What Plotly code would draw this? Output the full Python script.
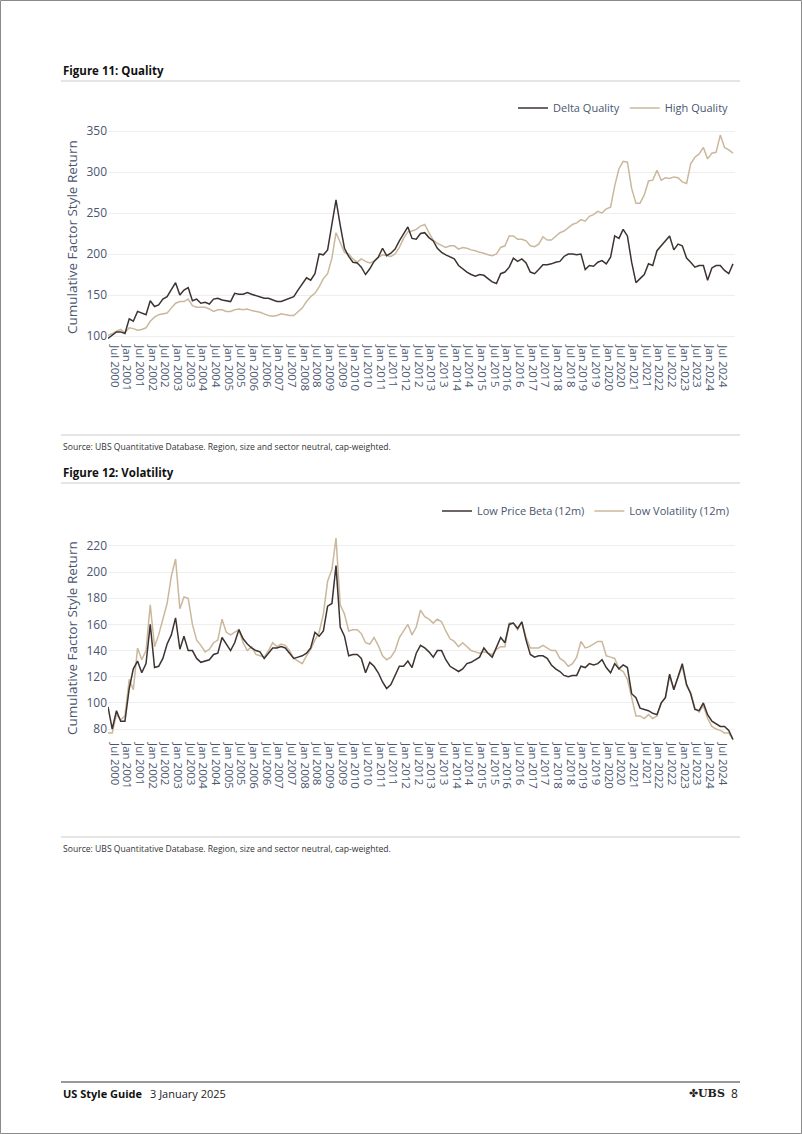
import pandas as pd
import plotly.graph_objects as go

W, H = 802, 1134

# bimonthly observations, Apr 2000 .. Dec 2024
dates = pd.date_range("2000-04-01", periods=149, freq="2MS")

delta_quality = [
    97, 101, 105, 105, 103, 121, 118, 130, 128, 126, 143, 136, 138, 145, 148, 156, 165, 150, 156, 159, 143, 145, 140, 141, 139,
    145, 146, 144, 143, 142, 152, 151, 151, 153, 151, 149, 148, 146, 146, 144, 142, 142, 144, 146, 148, 156, 163, 171, 168, 176,
    200, 199, 205, 237, 266, 235, 207, 197, 190, 189, 184, 175, 182, 191, 196, 207, 198, 201, 206, 216, 225, 233, 219, 218, 225,
    226, 220, 216, 207, 202, 199, 196, 194, 186, 182, 178, 175, 173, 175, 174, 170, 166, 164, 176, 178, 184, 195, 191, 194, 189,
    178, 176, 181, 187, 187, 188, 190, 191, 197, 200, 200, 199, 200, 181, 186, 185, 190, 192, 188, 196, 222, 219, 230, 222, 190,
    165, 170, 175, 188, 186, 204, 210, 217, 222, 205, 212, 210, 195, 190, 184, 186, 186, 168, 183, 186, 186, 180, 176, 188,
]
high_quality = [
    101, 103, 106, 108, 104, 110, 109, 107, 108, 110, 118, 123, 126, 127, 128, 134, 140, 142, 142, 145, 137, 135, 135, 135, 133,
    130, 132, 132, 130, 130, 132, 133, 132, 133, 131, 130, 129, 127, 125, 124, 125, 127, 126, 125, 125, 129, 134, 142, 148, 152,
    160, 170, 176, 195, 226, 214, 202, 200, 194, 190, 194, 191, 189, 191, 196, 199, 198, 197, 200, 208, 219, 227, 228, 230, 234,
    236, 226, 217, 213, 210, 208, 210, 210, 206, 208, 207, 205, 204, 202, 201, 199, 198, 200, 208, 210, 222, 222, 218, 218, 216,
    210, 209, 212, 221, 217, 217, 221, 226, 228, 232, 236, 238, 242, 240, 246, 248, 252, 250, 255, 257, 283, 304, 313, 312, 280,
    262, 262, 272, 289, 290, 302, 290, 293, 292, 294, 293, 288, 286, 310, 318, 322, 330, 316, 323, 324, 345, 330, 327, 323,
]
low_price_beta = [
    97, 80, 94, 86, 86, 111, 126, 132, 123, 130, 160, 127, 128, 134, 145, 152, 165, 141, 151, 140, 140, 134, 131, 132, 133,
    137, 138, 150, 145, 140, 146, 156, 149, 145, 142, 140, 139, 134, 138, 142, 142, 143, 142, 138, 134, 135, 136, 138, 142, 154,
    151, 155, 174, 176, 205, 158, 151, 136, 137, 137, 134, 123, 131, 128, 123, 116, 111, 114, 121, 128, 128, 132, 127, 138, 144,
    142, 139, 135, 140, 140, 133, 128, 126, 124, 126, 130, 131, 133, 135, 142, 138, 135, 143, 150, 146, 160, 161, 157, 162, 148,
    137, 135, 136, 136, 134, 129, 126, 124, 121, 120, 121, 121, 128, 127, 130, 129, 130, 133, 127, 123, 130, 126, 129, 127, 107,
    104, 96, 95, 94, 92, 91, 100, 104, 122, 110, 120, 130, 114, 107, 95, 94, 100, 91, 86, 84, 82, 82, 79, 72,
]
low_volatility = [
    77, 77, 91, 87, 90, 118, 110, 142, 133, 140, 175, 143, 152, 164, 176, 197, 210, 172, 181, 180, 160, 148, 144, 139, 141,
    146, 148, 164, 154, 152, 154, 156, 146, 140, 143, 137, 136, 135, 140, 146, 143, 145, 144, 140, 134, 132, 130, 136, 141, 148,
    154, 168, 193, 202, 226, 175, 168, 155, 156, 156, 153, 146, 145, 150, 144, 136, 133, 135, 140, 150, 155, 160, 152, 158, 171,
    166, 164, 161, 164, 162, 155, 149, 147, 143, 146, 143, 140, 139, 138, 139, 138, 137, 141, 143, 143, 161, 161, 156, 162, 150,
    142, 142, 142, 144, 142, 140, 140, 134, 132, 128, 130, 135, 147, 142, 143, 145, 147, 147, 136, 135, 134, 126, 124, 118, 105,
    90, 90, 88, 91, 88, 90, 100, 104, 120, 111, 120, 128, 113, 108, 96, 93, 98, 88, 82, 80, 79, 77, 77, 72,
]

quality_ticks = [100, 150, 200, 250, 300, 350]
volatility_ticks = [80, 100, 120, 140, 160, 180, 200, 220]

DARK = "#3d3330"
TAN = "#cbb89c"
AXIS = "#4a5670"
GRID = "#eeeeee"
FONT = "Open Sans"


def px(x):
    return x / W


def py(y):
    return 1 - y / H


fig = go.Figure()

# chart 1
fig.add_trace(go.Scatter(x=dates, y=high_quality, name="High Quality", mode="lines",
                         line=dict(color=TAN, width=1.5), xaxis="x", yaxis="y",
                         legend="legend", legendrank=2))
fig.add_trace(go.Scatter(x=dates, y=delta_quality, name="Delta Quality", mode="lines",
                         line=dict(color=DARK, width=1.5), xaxis="x", yaxis="y",
                         legend="legend", legendrank=1))
# chart 2
fig.add_trace(go.Scatter(x=dates, y=low_volatility, name="Low Volatility (12m)", mode="lines",
                         line=dict(color=TAN, width=1.5), xaxis="x2", yaxis="y2",
                         legend="legend2", legendrank=2))
fig.add_trace(go.Scatter(x=dates, y=low_price_beta, name="Low Price Beta (12m)", mode="lines",
                         line=dict(color=DARK, width=1.5), xaxis="x2", yaxis="y2",
                         legend="legend2", legendrank=1))

xcommon = dict(
    type="date", range=["2000-04-01", "2024-12-30"], tickformat="%b %Y", dtick="M6",
    tick0="2000-07-01", tickangle=90, showgrid=False, showline=False, zeroline=False,
    ticks="", tickfont=dict(family=FONT, size=11.5, color=AXIS), fixedrange=True,
)
ycommon = dict(showgrid=True, gridcolor=GRID, gridwidth=1, zeroline=False, showline=False,
               ticks="", tickfont=dict(family=FONT, size=12, color=AXIS), fixedrange=True)

legcommon = dict(orientation="h", xanchor="right", yanchor="middle", bgcolor="rgba(0,0,0,0)",
                 font=dict(family=FONT, size=11, color=AXIS), itemwidth=30,
                 traceorder="normal")

src = "Source: UBS Quantitative Database. Region, size and sector neutral, cap-weighted."

annotations = [
    dict(text="<b>Figure 11: Quality</b>", x=px(61), y=py(70), font=dict(size=11.5, color="#111111")),
    dict(text=src, x=px(61), y=py(447), font=dict(size=8.6, color="#333333")),
    dict(text="<b>Figure 12: Volatility</b>", x=px(61), y=py(473), font=dict(size=11.5, color="#111111")),
    dict(text=src, x=px(61), y=py(849), font=dict(size=8.6, color="#333333")),
    dict(text="<b>US Style Guide</b>", x=px(61), y=py(1093), font=dict(size=11, color="#111111")),
    dict(text="3 January 2025", x=px(148), y=py(1093), font=dict(size=11, color="#222222")),
    dict(text="✤<b>UBS</b>", x=px(727), y=py(1093), xanchor="right",
         font=dict(family="DejaVu Serif", size=11, color="#222222")),
    dict(text="8", x=px(740), y=py(1093), xanchor="right", font=dict(size=12, color="#222222")),
]
for a in annotations:
    a.setdefault("xanchor", "left")
    a["yanchor"] = "middle"
    a["xref"] = "paper"
    a["yref"] = "paper"
    a["showarrow"] = False
    a["font"].setdefault("family", FONT)

for yc in (237, 638):
    annotations.append(dict(text="Cumulative Factor Style Return", x=px(72), y=py(yc), xref="paper",
                            yref="paper", showarrow=False, textangle=-90, xanchor="center",
                            yanchor="middle", font=dict(family=FONT, size=13.5, color=AXIS)))

shapes = []
for yy in (81, 435, 483, 837):
    shapes.append(dict(type="line", xref="paper", yref="paper", x0=px(61), x1=px(740),
                       y0=py(yy), y1=py(yy), line=dict(color="#dcdcdc", width=1.5)))
shapes.append(dict(type="line", xref="paper", yref="paper", x0=px(61), x1=px(740),
                   y0=py(1082), y1=py(1082), line=dict(color="#333333", width=1)))
shapes.append(dict(type="rect", xref="paper", yref="paper", x0=px(0.5), x1=px(801.5),
                   y0=py(1133.5), y1=py(0.5), line=dict(color="#8a8a8a", width=1)))

fig.update_layout(
    width=W, height=H, margin=dict(l=0, r=0, t=0, b=0),
    paper_bgcolor="white", plot_bgcolor="white",
    font=dict(family=FONT, color=AXIS),
    xaxis=dict(xcommon, domain=[px(108), px(735)], anchor="y"),
    yaxis=dict(ycommon, domain=[py(344.2), py(122.8)], range=[90, 360], tickvals=quality_ticks, anchor="x"),
    xaxis2=dict(xcommon, domain=[px(108), px(735)], anchor="y2"),
    yaxis2=dict(ycommon, domain=[py(742.1), py(532.9)], range=[70, 230], tickvals=volatility_ticks, anchor="x2"),
    legend=dict(legcommon, x=px(734), y=py(108)),
    legend2=dict(legcommon, x=px(734), y=py(511)),
    showlegend=True,
    annotations=annotations,
    shapes=shapes,
)

fig.write_html("out.html", config={"displayModeBar": False})
